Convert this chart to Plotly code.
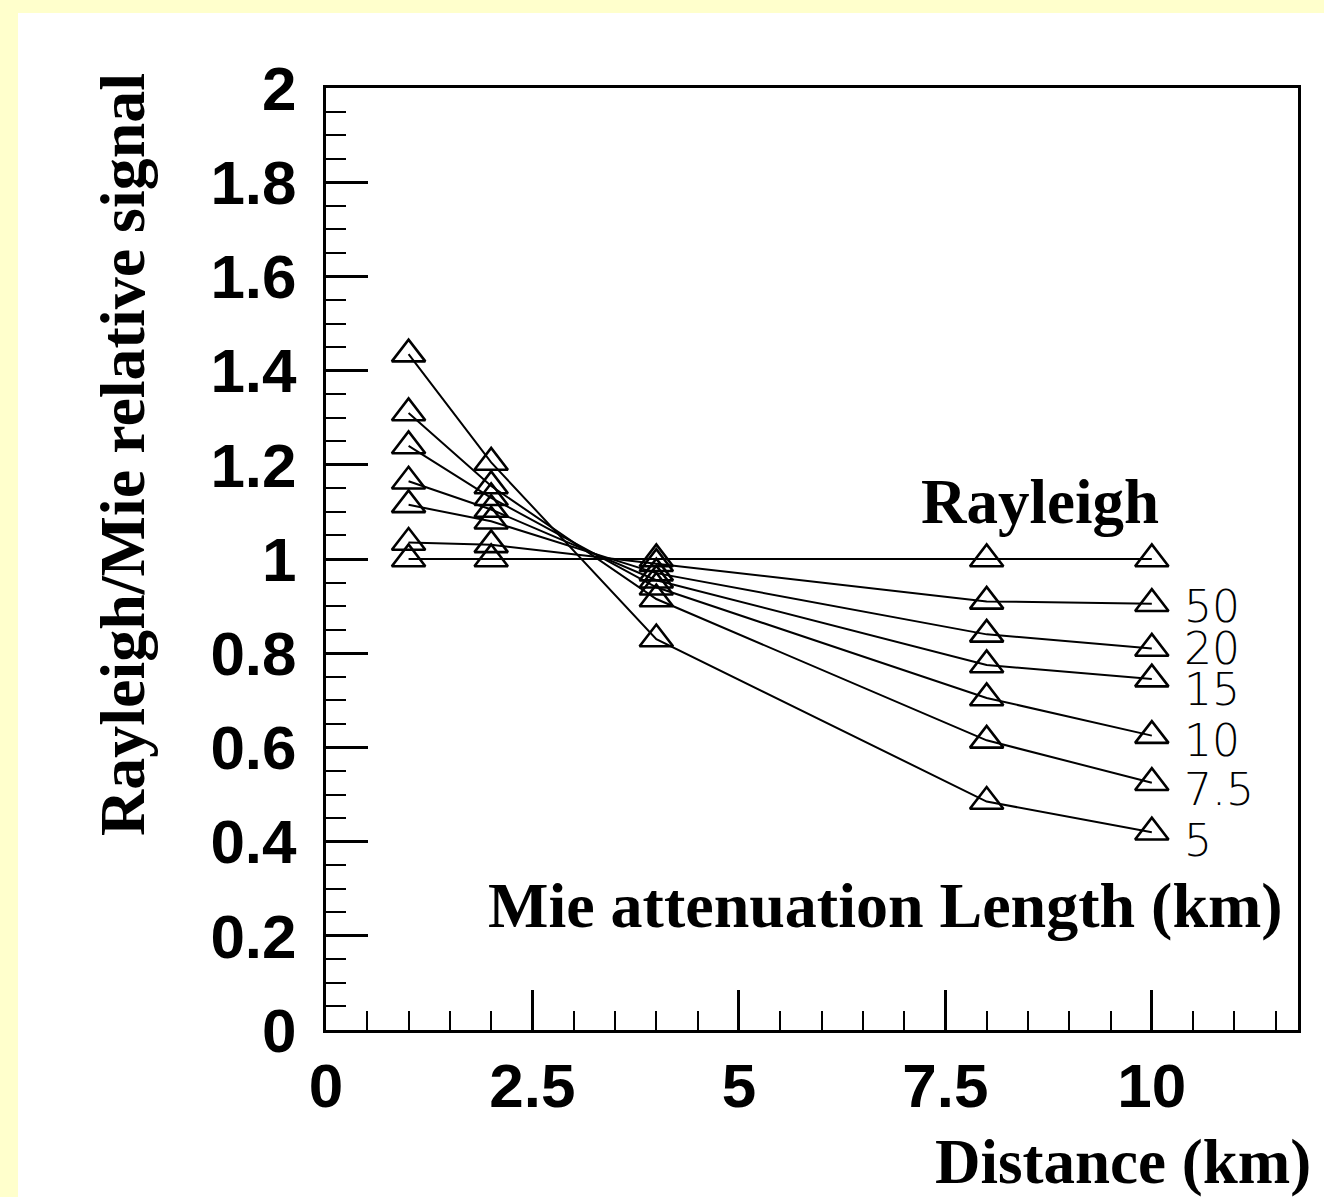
import plotly.graph_objects as go

# ---------------- data ----------------
distance_km = [1, 2, 4, 8, 10]
series_names = ["Rayleigh", "50", "20", "15", "10", "7.5", "5"]
rayleigh = [1.0, 1.0, 1.0, 1.0, 1.0]
mie_50 = [1.035, 1.03, 0.99, 0.91, 0.905]
mie_20 = [1.115, 1.08, 0.97, 0.84, 0.81]
mie_15 = [1.165, 1.105, 0.955, 0.775, 0.745]
mie_10 = [1.24, 1.13, 0.94, 0.705, 0.625]
mie_7_5 = [1.31, 1.155, 0.915, 0.615, 0.525]
mie_5 = [1.435, 1.205, 0.83, 0.485, 0.42]
series_values = [rayleigh, mie_50, mie_20, mie_15, mie_10, mie_7_5, mie_5]

x_tickvals = [0, 2.5, 5, 7.5, 10]
x_ticktext = ["0", "2.5", "5", "7.5", "10"]
y_tickvals = [0, 0.2, 0.4, 0.6, 0.8, 1.0, 1.2, 1.4, 1.6, 1.8, 2.0]
y_ticktext = ["0", "0.2", "0.4", "0.6", "0.8", "1", "1.2", "1.4", "1.6", "1.8", "2"]

# ---------------- layout geometry (pixels) ----------------
W, H = 1324, 1197
L, R, T, B = 326, 1298, 88, 1030


def px_x(px):
    return (px - L) / (R - L)


def px_y(py):
    return (B - py) / (B - T)


fig = go.Figure()

for name, vals in zip(series_names, series_values):
    fig.add_trace(go.Scatter(
        x=distance_km, y=vals, name=name, mode="lines+markers",
        line=dict(color="black", width=2),
        marker=dict(symbol="triangle-up-open", size=29, color="black",
                    line=dict(color="black", width=2.6)),
        showlegend=False,
    ))

serif = "Liberation Serif, Times New Roman, serif"
sans = "Liberation Sans, Arial, sans-serif"
wide_sans = "DejaVu Sans, Liberation Sans, sans-serif"

annotations = [
    dict(text="Rayleigh/Mie relative signal", textangle=-90,
         x=px_x(122), y=px_y(455), xanchor="center", yanchor="middle",
         font=dict(family=serif, size=64, color="black", weight="bold")),
    dict(text="Rayleigh", x=px_x(1040), y=px_y(502), xanchor="center", yanchor="middle",
         font=dict(family=serif, size=63, color="black", weight="bold")),
    dict(text="Mie attenuation Length (km)", x=px_x(885), y=px_y(905),
         xanchor="center", yanchor="middle",
         font=dict(family=serif, size=64, color="black", weight="bold")),
    dict(text="Distance (km)", x=px_x(1313), y=px_y(1162), xanchor="right", yanchor="middle",
         font=dict(family=serif, size=63, color="black", weight="bold")),
]

label_text = ["50", "20", "15", "10", "7.5", "5"]
label_py = [606, 648, 689, 740, 789, 840]
for t, py in zip(label_text, label_py):
    annotations.append(dict(text=t, x=px_x(1182), y=px_y(py), xanchor="left", yanchor="middle",
                            font=dict(family=wide_sans, size=44, color="black", weight=200)))

for a in annotations:
    a.update(xref="paper", yref="paper", showarrow=False)

fig.update_layout(
    width=W, height=H,
    margin=dict(l=L, r=W - R, t=T, b=H - B, pad=0),
    paper_bgcolor="#FFFFCC",
    plot_bgcolor="white",
    annotations=annotations,
    shapes=[dict(type="rect", xref="paper", yref="paper", layer="below",
                 x0=px_x(18), x1=px_x(W + 5), y0=px_y(13), y1=px_y(H + 5),
                 fillcolor="white", line=dict(width=0))],
)

fig.update_xaxes(
    range=[0, 11.77], showgrid=False, zeroline=False,
    showline=True, linecolor="black", linewidth=3, mirror=True,
    tickmode="array", tickvals=x_tickvals, ticktext=x_ticktext,
    ticks="inside", ticklen=40, tickwidth=2.5, tickcolor="black",
    ticklabelstandoff=0,
    tickfont=dict(family=sans, size=62, color="black", weight="bold"),
    minor=dict(ticks="inside", dtick=0.5, tick0=0, ticklen=19, tickwidth=2.2, tickcolor="black"),
)
fig.update_yaxes(
    range=[0, 2.0], showgrid=False, zeroline=False,
    showline=True, linecolor="black", linewidth=3, mirror=True,
    tickmode="array", tickvals=y_tickvals, ticktext=y_ticktext,
    ticks="inside", ticklen=42, tickwidth=2.5, tickcolor="black",
    ticklabelstandoff=14,
    tickfont=dict(family=sans, size=62, color="black", weight="bold"),
    minor=dict(ticks="inside", dtick=0.05, tick0=0, ticklen=20, tickwidth=2.2, tickcolor="black"),
)

fig.write_html(
    "out.html",
    config={"displayModeBar": False},
    post_script="document.body.style.margin='0';document.body.style.overflow='hidden';",
)
